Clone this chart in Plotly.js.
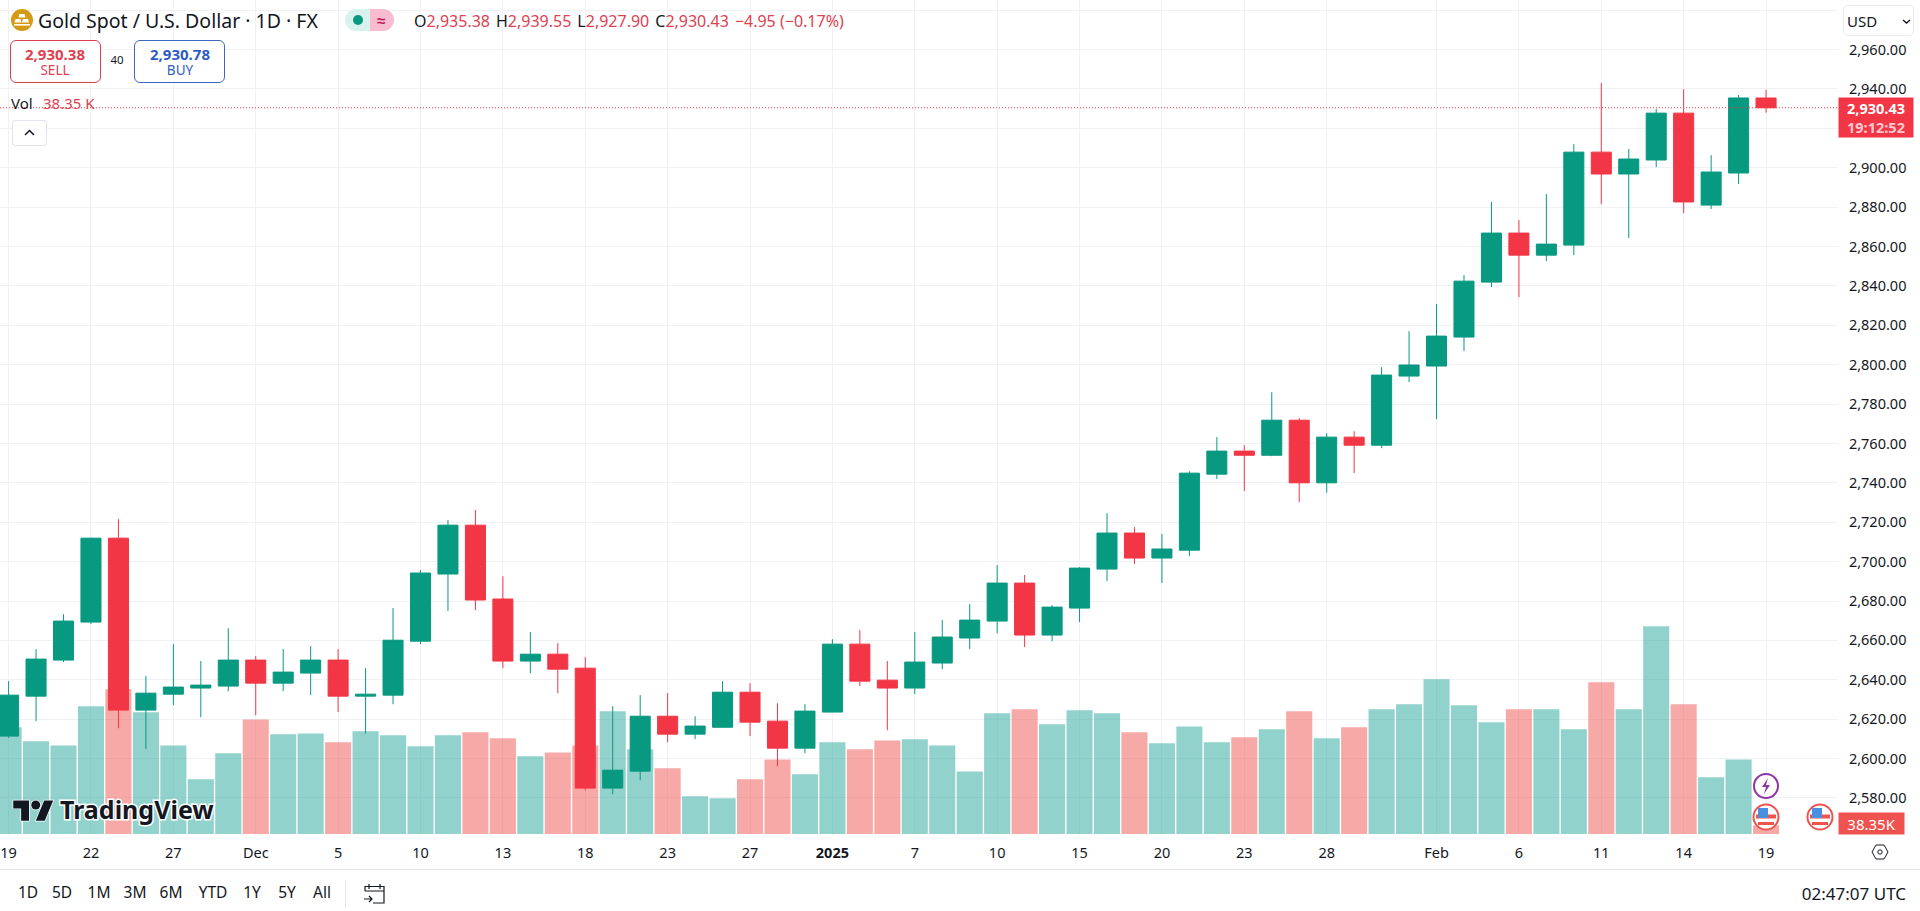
<!DOCTYPE html>
<html>
<head>
<meta charset="utf-8">
<title>Gold Spot / U.S. Dollar</title>
<script src="https://cdn.plot.ly/plotly-3.0.1.min.js"></script>
<style>
  html, body { margin: 0; padding: 0; background: #fff; overflow: hidden; }
  body { font-family: "Noto Sans", sans-serif; color: #131722; }
  #stage { position: relative; width: 1920px; height: 911px; }
  #chart { position: absolute; left: 0; top: 0; width: 1920px; height: 911px; }
  .t { position: absolute; white-space: nowrap; transform: translateY(-50%); line-height: 1; }
  .c { transform: translate(-50%, -50%); }
  .r { color: #e0414f; }
  .g { display: inline-block; width: 6px; }
  .box { position: absolute; box-sizing: border-box; background: #fff; }
  svg.ico { position: absolute; overflow: visible; }
</style>
</head>
<body>
<div id="stage">
  <div id="chart"></div>

  <!-- header -->
  <svg class="ico" style="left:11px;top:9px" width="22" height="22" viewBox="0 0 22 22">
    <circle cx="11" cy="11" r="11" fill="#d49a14"/>
    <path d="M8.5 5h5l1 3.5h-7zM4.5 10h5l1 3.5h-7zM12 10h5l1 3.5h-7z" fill="#fff"/>
    <rect x="3" y="15" width="16" height="1.6" fill="#fff"/>
  </svg>
  <span class="t" style="left:38px;top:21px;font-size:19.5px">Gold Spot / U.S. Dollar · 1D · FX</span>
  <div class="box" style="left:345px;top:9px;width:25px;height:22px;background:#d9f2ee;border-radius:11px 0 0 11px"></div>
  <div class="box" style="left:370px;top:9px;width:24px;height:22px;background:#f8bbd0;border-radius:0 11px 11px 0"></div>
  <svg class="ico" style="left:353px;top:15px" width="10" height="10"><circle cx="5" cy="5" r="5" fill="#089981"/></svg>
  <span class="t c" style="left:381px;top:20px;font-size:15px;font-weight:700;color:#c2185b">≈</span>
  <span class="t" style="left:414px;top:21px;font-size:16px">O<span class="r">2,935.38</span><span class="g"></span>H<span class="r">2,939.55</span><span class="g"></span>L<span class="r">2,927.90</span><span class="g"></span>C<span class="r">2,930.43</span><span class="g"></span><span class="r">−4.95 (−0.17%)</span></span>

  <div class="box" style="left:10px;top:40px;width:91px;height:43px;border:1px solid #d9404f;border-radius:6px"></div>
  <span class="t c r" style="left:55px;top:54px;font-size:15px;font-weight:700">2,930.38</span>
  <span class="t c r" style="left:55px;top:71px;font-size:13.5px">SELL</span>
  <span class="t c" style="left:117px;top:60px;font-size:11.5px">40</span>
  <div class="box" style="left:134px;top:40px;width:91px;height:43px;border:1px solid #3d66bf;border-radius:6px"></div>
  <span class="t c" style="left:180px;top:54px;font-size:15px;font-weight:700;color:#2f5cc4">2,930.78</span>
  <span class="t c" style="left:180px;top:71px;font-size:13.5px;color:#2f5cc4">BUY</span>

  <span class="t" style="left:11px;top:103px;font-size:15px">Vol</span>
  <span class="t r" style="left:43px;top:103px;font-size:15px">38.35 K</span>
  <div class="box" style="left:12px;top:120px;width:35px;height:26px;border:1px solid #e0e3eb;border-radius:3px"></div>
  <svg class="ico" style="left:24px;top:129px" width="11" height="8"><path d="M1 6l4.5-4.5L10 6" fill="none" stroke="#131722" stroke-width="1.5"/></svg>

  <div class="box" style="left:1843px;top:5px;width:71px;height:31px;border:1px solid #e8eaf0;border-radius:5px"></div>
  <span class="t" style="left:1847px;top:21px;font-size:15px">USD</span>
  <svg class="ico" style="left:1902px;top:19px" width="9" height="6"><path d="M1 1l3.5 3L8 1" fill="none" stroke="#131722" stroke-width="1.4"/></svg>

  <!-- watermark -->
  <svg class="ico" style="left:13px;top:796px" width="41" height="27" viewBox="0 0 36 24">
    <g fill="#131722" stroke="#fff" stroke-width="1.2" paint-order="stroke">
      <path d="M14 22H7V11H0V4h14v18zM28 22h-8l7.5-18h8L28 22z"/>
      <circle cx="20" cy="8" r="4"/>
    </g>
  </svg>
  <span class="t" style="left:60px;top:809px;font-size:25px;font-weight:700;color:#131722;-webkit-text-stroke:3px #fff;paint-order:stroke fill">TradingView</span>

  <!-- event markers -->
  <svg class="ico" style="left:1752px;top:772px" width="28" height="28" viewBox="0 0 28 28">
    <circle cx="14" cy="14" r="12" fill="#fff" stroke="#8e35a8" stroke-width="2"/>
    <path d="M16 6l-6 9h4l-2 7 6-9h-4z" fill="#8e35a8"/>
  </svg>
  <svg class="ico" style="left:1752px;top:803px" width="28" height="28" viewBox="0 0 28 28">
    <circle cx="14" cy="14" r="12.5" fill="#fff" stroke="#ef5350" stroke-width="2"/>
    <rect x="4" y="11.5" width="20" height="4" fill="#ef5350"/><rect x="6" y="19" width="16" height="3" fill="#ef5350"/>
    <rect x="6" y="5" width="10" height="10" fill="#4a90e2"/>
  </svg>
  <svg class="ico" style="left:1806px;top:803px" width="28" height="28" viewBox="0 0 28 28">
    <circle cx="14" cy="14" r="12.5" fill="#fff" stroke="#ef5350" stroke-width="2"/>
    <rect x="4" y="11.5" width="20" height="4" fill="#ef5350"/><rect x="6" y="19" width="16" height="3" fill="#ef5350"/>
    <rect x="6" y="5" width="10" height="10" fill="#4a90e2"/>
  </svg>

  <!-- settings hexagon -->
  <svg class="ico" style="left:1871px;top:843px" width="18" height="18" viewBox="0 0 18 18">
    <path d="M5 2h8l4 7-4 7H5L1 9z" fill="none" stroke="#131722" stroke-width="1"/>
    <circle cx="9" cy="9" r="2.2" fill="none" stroke="#131722" stroke-width="1"/>
  </svg>

  <!-- bottom toolbar -->
  <div class="box" style="left:0;top:869px;width:1920px;height:1px;background:#e0e3eb"></div>
  <div id="ranges"></div>
  <div class="box" style="left:345px;top:880px;width:1px;height:27px;background:#e0e3eb"></div>
  <svg class="ico" style="left:362px;top:881px" width="24" height="24" viewBox="0 0 24 24" fill="none" stroke="#131722" stroke-width="1.2">
    <path d="M3 10V5.5h19V22H11M3 10h19M7 3v5M18 3v5M2 18h8M7 15l3 3-3 3"/>
  </svg>
  <span class="t" style="right:14px;top:893px;font-size:17px">02:47:07 UTC</span>
</div>

<script>
  // bar number of each tick on the time axis
  const tickBars = [0, 3, 6, 9, 12, 15, 18, 21, 24, 27, 30, 33, 36, 39, 42, 45, 48, 52, 55, 58, 61, 64];
  const tickLabels = ['19', '22', '27', 'Dec', '5', '10', '13', '18', '23', '27', '<b>2025</b>', '7', '10', '15', '20', '23', '28', 'Feb', '6', '11', '14', '19'];

  // price scale; 2,920 sits under the last price tag and 2,980 under the currency box, so no label
  const priceTicks = [2580, 2600, 2620, 2640, 2660, 2680, 2700, 2720, 2740, 2760, 2780, 2800, 2820, 2840, 2860, 2880, 2900, 2920, 2940, 2960, 2980];
  const priceTickLabels = ['2,580.00', '2,600.00', '2,620.00', '2,640.00', '2,660.00', '2,680.00', '2,700.00', '2,720.00', '2,740.00', '2,760.00', '2,780.00', '2,800.00', '2,820.00', '2,840.00', '2,860.00', '2,880.00', '2,900.00', '', '2,940.00', '2,960.00', ''];

  // daily candles
  const opens = [
    2611.4, 2631.7, 2650.0, 2669.3, 2711.9, 2624.6, 2632.7, 2635.8, 2636.8, 2650.0,
    2638.3, 2643.4, 2650.0, 2631.7, 2632.2, 2659.6, 2693.7, 2718.5, 2681.0, 2649.5,
    2653.0, 2645.9, 2585.0, 2593.6, 2621.5, 2612.4, 2615.9, 2633.7, 2619.0, 2605.3,
    2623.6, 2658.1, 2639.8, 2635.8, 2648.5, 2661.2, 2669.8, 2689.1, 2662.7, 2676.4,
    2696.2, 2714.5, 2701.8, 2705.8, 2744.4, 2756.1, 2754.0, 2771.8, 2740.0, 2763.2,
    2759.1, 2794.2, 2799.3, 2814.0, 2841.9, 2866.8, 2855.6, 2860.7, 2907.9, 2896.8,
    2903.9, 2927.7, 2881.0, 2897.3, 2935.38
  ];
  const highs = [
    2639.3, 2655.6, 2673.3, 2712.2, 2721.6, 2641.9, 2658.1, 2649.5, 2666.2, 2652.0,
    2655.6, 2657.1, 2655.6, 2645.9, 2676.4, 2695.7, 2721.1, 2726.2, 2692.6, 2664.2,
    2658.6, 2651.5, 2626.6, 2632.2, 2633.2, 2621.5, 2639.3, 2638.3, 2628.1, 2627.6,
    2660.6, 2665.2, 2649.5, 2664.2, 2670.3, 2678.4, 2698.2, 2693.2, 2677.9, 2697.2,
    2724.6, 2717.5, 2714.0, 2745.9, 2763.2, 2759.1, 2786.0, 2772.8, 2765.2, 2766.2,
    2798.7, 2817.0, 2830.7, 2845.5, 2882.6, 2873.4, 2886.6, 2912.0, 2943.0, 2909.5,
    2929.8, 2939.9, 2906.4, 2936.9, 2939.55
  ];
  const lows = [
    2610.5, 2619.0, 2649.0, 2668.3, 2615.4, 2604.9, 2627.1, 2621.0, 2634.2, 2622.0,
    2634.2, 2632.2, 2623.6, 2612.7, 2627.6, 2658.1, 2674.9, 2675.4, 2645.9, 2643.4,
    2633.2, 2583.9, 2581.9, 2589.0, 2608.3, 2609.9, 2615.9, 2611.4, 2596.1, 2602.7,
    2623.6, 2636.8, 2614.4, 2632.7, 2645.4, 2655.6, 2663.7, 2656.6, 2659.6, 2669.3,
    2690.1, 2698.7, 2689.1, 2702.8, 2741.9, 2735.8, 2753.5, 2730.2, 2735.0, 2744.9,
    2757.6, 2791.1, 2772.3, 2806.9, 2839.4, 2834.3, 2852.6, 2855.6, 2881.5, 2864.3,
    2900.3, 2877.0, 2879.0, 2891.7, 2927.90
  ];
  const closes = [
    2632.2, 2650.5, 2669.8, 2711.9, 2624.6, 2633.2, 2636.3, 2637.3, 2650.0, 2638.3,
    2643.9, 2650.0, 2631.7, 2632.7, 2660.1, 2694.2, 2718.5, 2680.5, 2649.5, 2653.0,
    2645.4, 2585.0, 2594.1, 2621.5, 2612.4, 2616.5, 2633.7, 2618.5, 2605.3, 2624.1,
    2658.1, 2639.3, 2635.8, 2649.0, 2661.7, 2670.3, 2689.1, 2662.7, 2676.9, 2696.7,
    2714.5, 2701.8, 2706.4, 2744.9, 2756.1, 2754.0, 2771.8, 2740.0, 2763.2, 2759.1,
    2794.7, 2799.8, 2814.5, 2842.4, 2866.8, 2855.6, 2861.2, 2907.9, 2896.8, 2904.4,
    2927.7, 2882.6, 2897.8, 2935.4, 2930.43
  ];
  // volume in thousands
  const volumes = [
    472, 410, 392, 565, 640, 538, 392, 242, 357, 507,
    441, 445, 406, 454, 437, 388, 437, 450, 423, 344,
    361, 392, 543, 375, 291, 167, 158, 242, 330, 264,
    406, 375, 414, 419, 392, 277, 534, 552, 485, 547,
    534, 450, 401, 476, 406, 428, 463, 543, 423, 472,
    552, 574, 684, 569, 494, 552, 552, 463, 671, 552,
    919, 574, 251, 330, 38.35
  ];
  const rangeButtons = ['1D', '5D', '1M', '3M', '6M', 'YTD', '1Y', '5Y', 'All'];
  const rangeButtonX = [28, 62, 99, 135, 171, 213, 252, 287, 322];

  const lastPrice = 2930.43;
  const UP = '#089981';
  const DOWN = '#F23645';
  const FONT = '"Noto Sans", sans-serif';

  const bars = opens.map((_, i) => i);
  const volumeColors = opens.map((o, i) => closes[i] < o ? 'rgba(239,83,80,0.5)' : 'rgba(38,166,154,0.5)');

  const traces = [
    {
      type: 'bar',
      x: bars,
      y: volumes,
      marker: { color: volumeColors, line: { width: 0 } },
      xaxis: 'x',
      yaxis: 'y',
      hoverinfo: 'skip'
    },
    {
      type: 'candlestick',
      x: bars,
      open: opens,
      high: highs,
      low: lows,
      close: closes,
      whiskerwidth: 0,
      increasing: { line: { color: UP, width: 1 }, fillcolor: UP },
      decreasing: { line: { color: DOWN, width: 1 }, fillcolor: DOWN },
      xaxis: 'x',
      yaxis: 'y2',
      hoverinfo: 'skip'
    }
  ];

  const layout = {
    width: 1920,
    height: 911,
    margin: { l: 0, r: 82, t: 0, b: 77.3, pad: 0 },
    paper_bgcolor: '#ffffff',
    plot_bgcolor: '#ffffff',
    showlegend: false,
    hovermode: false,
    bargap: 0.05,
    boxgap: 0.27,
    boxgroupgap: 0,
    font: { family: FONT, size: 14.5, color: '#131722' },
    xaxis: {
      range: [-0.313, 66.62],
      tickmode: 'array',
      tickvals: tickBars,
      ticktext: tickLabels,
      tickangle: 0,
      showgrid: true,
      gridcolor: '#eff1f5',
      gridwidth: 1,
      zeroline: false,
      showline: false,
      ticks: 'outside',
      ticklen: 6,
      tickcolor: 'rgba(0,0,0,0)',
      rangeslider: { visible: false },
      fixedrange: true
    },
    yaxis: {
      range: [0, 3689],
      visible: false,
      showgrid: false,
      zeroline: false,
      fixedrange: true
    },
    yaxis2: {
      overlaying: 'y',
      side: 'right',
      range: [2561.7, 2985.14],
      tickmode: 'array',
      tickvals: priceTicks,
      ticktext: priceTickLabels,
      ticklabelshift: 1.5,
      showgrid: true,
      gridcolor: '#eff1f5',
      gridwidth: 1,
      zeroline: false,
      showline: false,
      ticks: 'outside',
      ticklen: 7,
      tickcolor: 'rgba(0,0,0,0)',
      fixedrange: true
    },
    shapes: [
      {
        type: 'line',
        xref: 'paper',
        yref: 'y2',
        x0: 0,
        x1: 1,
        y0: lastPrice,
        y1: lastPrice,
        line: { color: DOWN, width: 1, dash: '1px,2px' }
      }
    ],
    annotations: [
      {
        xref: 'paper',
        yref: 'y2',
        x: 1,
        xshift: 38,
        y: lastPrice,
        yshift: -9.5,
        xanchor: 'center',
        yanchor: 'middle',
        width: 72,
        height: 37,
        bgcolor: DOWN,
        showarrow: false,
        align: 'center',
        font: { family: FONT, size: 14.5, color: '#ffffff' },
        text: '<b>2,930.43</b><br><span style="color:#fbc9ce"><b>19:12:52</b></span>'
      },
      {
        xref: 'paper',
        yref: 'paper',
        x: 1,
        xshift: 33,
        y: 0,
        yshift: 10.5,
        xanchor: 'center',
        yanchor: 'middle',
        width: 63,
        height: 19,
        bgcolor: '#EF5350',
        showarrow: false,
        font: { family: FONT, size: 15, color: '#ffffff' },
        text: '38.35K'
      }
    ]
  };

  Plotly.newPlot('chart', traces, layout, { displayModeBar: false, staticPlot: true });

  // bottom range buttons
  const ranges = document.getElementById('ranges');
  rangeButtons.forEach((label, i) => {
    const span = document.createElement('span');
    span.className = 't c';
    span.style.left = rangeButtonX[i] + 'px';
    span.style.top = '893px';
    span.style.fontSize = '15.5px';
    span.textContent = label;
    ranges.appendChild(span);
  });
</script>
</body>
</html>
